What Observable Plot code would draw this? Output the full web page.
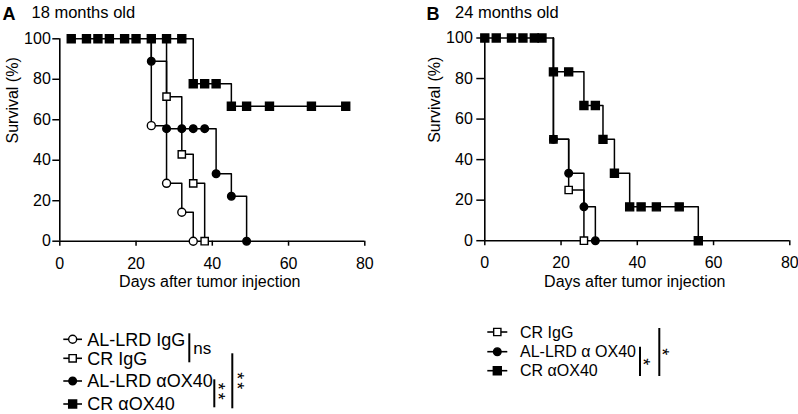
<!DOCTYPE html>
<html>
<head>
<meta charset="utf-8">
<script src="https://cdn.jsdelivr.net/npm/d3@7"></script>
<script src="https://cdn.jsdelivr.net/npm/@observablehq/plot@0.6"></script>
<style>
  html, body { margin: 0; padding: 0; background: white; }
  #root { position: relative; width: 798px; height: 414px; overflow: hidden; }
  #root svg { position: absolute; }
</style>
</head>
<body>
<div id="root"></div>
<script>
// ---------- data ----------
const xTicks = [0, 20, 40, 60, 80];
const yTicks = [0, 20, 40, 60, 80, 100];
const xLabel = "Days after tumor injection";
const yLabel = "Survival (%)";

// Panel A: 18 months old
const A_title = "18 months old";
const A_legend = ["AL-LRD IgG", "CR IgG", "AL-LRD αOX40", "CR αOX40"];
const A_alIgG_start = 24;
const A_alIgG_day = [24, 28, 32, 35];
const A_alIgG_surv = [57.1, 28.6, 14.3, 0];
const A_crIgG_start = 28;
const A_crIgG_day = [28, 32, 35, 38];
const A_crIgG_surv = [71.4, 42.9, 28.6, 0];
const A_alOX_start = 24;
const A_alOX_day = [24, 28, 32, 35, 38, 41, 45, 49];
const A_alOX_surv = [88.9, 55.6, 55.6, 55.6, 55.6, 33.3, 22.2, 0];
const A_crOX_start = 3;
const A_crOX_day = [3, 7, 10, 13, 17, 20, 24, 28, 32, 35, 38, 41, 45, 49, 55, 66, 75];
const A_crOX_surv = [100, 100, 100, 100, 100, 100, 100, 100, 100, 77.8, 77.8, 77.8, 66.7, 66.7, 66.7, 66.7, 66.7];

// Panel B: 24 months old
const B_title = "24 months old";
const B_legend = ["CR IgG", "AL-LRD α OX40", "CR αOX40"];
const B_crIgG_start = 18;
const B_crIgG_day = [18, 22, 26];
const B_crIgG_surv = [50, 25, 0];
const B_alOX_start = 18;
const B_alOX_day = [18, 22, 26, 29];
const B_alOX_surv = [50, 33.3, 16.7, 0];
const B_crOX_start = 0;
const B_crOX_day = [0, 3, 7, 10, 13, 15, 18, 22, 26, 29, 31, 34, 38, 41, 45, 51, 56];
const B_crOX_surv = [100, 100, 100, 100, 100, 100, 83.3, 83.3, 66.7, 66.7, 50, 33.3, 16.7, 16.7, 16.7, 16.7, 0];

// Significance annotations
const A_sig = ["ns", "**", "**"];
const B_sig = ["*", "*"];

// ---------- styles ----------
const FONT = "'Liberation Sans', Arial, Helvetica, sans-serif";
const openCircle = {symbol: "circle", r: 4, fill: "white"};
const openSquare = {symbol: "square", r: 4.1, fill: "white"};
const fillCircle = {symbol: "circle", r: 3.8, fill: "black"};
const fillSquare = {symbol: "square", r: 4.5, fill: "black"};

function panel(cfg) {
  const rows = [];
  cfg.series.forEach(s => {
    rows.push({k: s.key, d: s.start, v: 100});
    s.day.forEach((d, i) => rows.push({k: s.key, d, v: s.surv[i]}));
  });
  return Plot.plot({
    width: 399, height: 300,
    marginLeft: cfg.mLeft, marginRight: 399 - cfg.mLeft - 305,
    marginTop: cfg.mTop, marginBottom: 300 - cfg.yZero,
    style: {fontFamily: FONT, fontSize: "16px", background: "transparent", overflow: "visible", color: "black"},
    x: {domain: [0, 80]},
    y: {domain: [0, 100]},
    marks: [
      Plot.axisX({ticks: xTicks, tickSize: 5, tickPadding: 11, fontSize: 16, label: null, strokeWidth: 1.5}),
      Plot.axisY({ticks: yTicks, tickSize: cfg.yTickSize, tickPadding: cfg.yTickPad, fontSize: 16, label: null, strokeWidth: 1.5}),
      Plot.ruleY([0], {stroke: "black", strokeWidth: 1.6}),
      Plot.ruleX([0], {stroke: "black", strokeWidth: 1.6}),
      Plot.line(rows, {x: "d", y: "v", z: "k", curve: "step-after", stroke: "black", strokeWidth: 1.5}),
      ...cfg.series.map(s => Plot.dot(s.day.map((d, i) => ({d, v: s.surv[i]})),
        {x: "d", y: "v", symbol: s.st.symbol, r: s.st.r, fill: s.st.fill, stroke: "black", strokeWidth: 1.4})),
      Plot.text([xLabel], {text: d => d, frameAnchor: "bottom", dy: 46, dx: -2.5, fontSize: 16, fill: "black"}),
      Plot.text([yLabel], {text: d => d, frameAnchor: "left", rotate: -90, dx: cfg.yLabelDx, dy: 3.5, fontSize: 16, fill: "black"})
    ]
  });
}

const root = document.getElementById("root");

const plotA = panel({
  mLeft: 59.3, mTop: 38.3, yZero: 240.7, yTickSize: 7, yTickPad: 2, yLabelDx: -46.8,
  series: [
    {key: "crOX", start: A_crOX_start, day: A_crOX_day, surv: A_crOX_surv, st: fillSquare},
    {key: "alOX", start: A_alOX_start, day: A_alOX_day, surv: A_alOX_surv, st: fillCircle},
    {key: "crIgG", start: A_crIgG_start, day: A_crIgG_day, surv: A_crIgG_surv, st: openSquare},
    {key: "alIgG", start: A_alIgG_start, day: A_alIgG_day, surv: A_alIgG_surv, st: openCircle}
  ]
});
plotA.style.left = "0px"; plotA.style.top = "0px";
root.appendChild(plotA);

const plotB = panel({
  mLeft: 484.3 - 399, mTop: 37.5, yZero: 240.2, yTickSize: 8, yTickPad: 4, yLabelDx: -50.3,
  series: [
    {key: "crOX", start: B_crOX_start, day: B_crOX_day, surv: B_crOX_surv, st: fillSquare},
    {key: "crIgG", start: B_crIgG_start, day: B_crIgG_day, surv: B_crIgG_surv, st: openSquare},
    {key: "alOX", start: B_alOX_start, day: B_alOX_day, surv: B_alOX_surv, st: fillCircle}
  ]
});
plotB.style.left = "399px"; plotB.style.top = "0px";
root.appendChild(plotB);

// ---------- overlay: titles, legends, significance brackets ----------
const svg = d3.select(root).append("svg")
  .attr("width", 798).attr("height", 414)
  .style("left", "0px").style("top", "0px")
  .attr("font-family", FONT);

function title(x1, letter, x2, text) {
  svg.append("text").attr("x", x1).attr("y", 20).attr("font-size", 18).attr("font-weight", "bold").text(letter);
  svg.append("text").attr("x", x2).attr("y", 17.5).attr("font-size", 16.5).text(text);
}
title(2.5, "A", 31.5, A_title);
title(426.5, "B", 455, B_title);

function legendRow(xLine0, xLine1, xText, yc, st, label, fs) {
  svg.append("line").attr("x1", xLine0).attr("x2", xLine1).attr("y1", yc).attr("y2", yc)
    .attr("stroke", "black").attr("stroke-width", 1.6);
  const type = st.symbol === "circle" ? d3.symbolCircle : d3.symbolSquare;
  svg.append("path").attr("d", d3.symbol(type, Math.PI * st.r * st.r)())
    .attr("transform", `translate(${(xLine0 + xLine1) / 2},${yc})`)
    .attr("fill", st.fill).attr("stroke", "black").attr("stroke-width", 1.4);
  svg.append("text").attr("x", xText).attr("y", yc).attr("dy", "0.35em").attr("font-size", fs).text(label);
}
const A_styles = [openCircle, openSquare, fillCircle, fillSquare];
const A_rowY = [339.3, 358.3, 381, 404];
A_legend.forEach((l, i) => legendRow(63.3, 82, 87.3, A_rowY[i], A_styles[i], l, 18));
const B_styles = [openSquare, fillCircle, fillSquare];
const B_rowY = [332, 351.7, 370.7];
B_legend.forEach((l, i) => legendRow(487.3, 507.3, 520, B_rowY[i], B_styles[i], l, 16));

function bracket(x, y0, y1) {
  svg.append("line").attr("x1", x).attr("x2", x).attr("y1", y0).attr("y2", y1)
    .attr("stroke", "black").attr("stroke-width", 2);
}
// asterisks stacked vertically: one text element, turned 90° so its characters run downward
function stars(xc, yc, label, fs, gap) {
  const adv = 0.389 * fs; // advance width of "*"
  const bx = xc - 0.57 * fs; // baseline offset so the glyph centre lands on xc
  svg.append("text")
    .attr("transform", `translate(${bx},${yc}) rotate(90)`)
    .attr("text-anchor", "middle")
    .attr("font-size", fs)
    .attr("letter-spacing", label.length > 1 ? gap - adv : 0)
    .text(label);
}
// Panel A
bracket(189.3, 333.3, 362.3);
svg.append("text").attr("x", 193.3).attr("y", 348.3).attr("dy", "0.35em").attr("font-size", 17).text(A_sig[0]);
bracket(214.3, 379.3, 407.3);
stars(222.7, 392.7, A_sig[1], 18, 10);
bracket(232.3, 353.3, 408.3);
stars(241.7, 382.3, A_sig[2], 18, 10);
// Panel B
bracket(640, 346.7, 376);
stars(647.3, 361.7, B_sig[0], 18, 10);
bracket(659.3, 328, 376);
stars(666.7, 351.7, B_sig[1], 18, 10);
</script>
</body>
</html>
